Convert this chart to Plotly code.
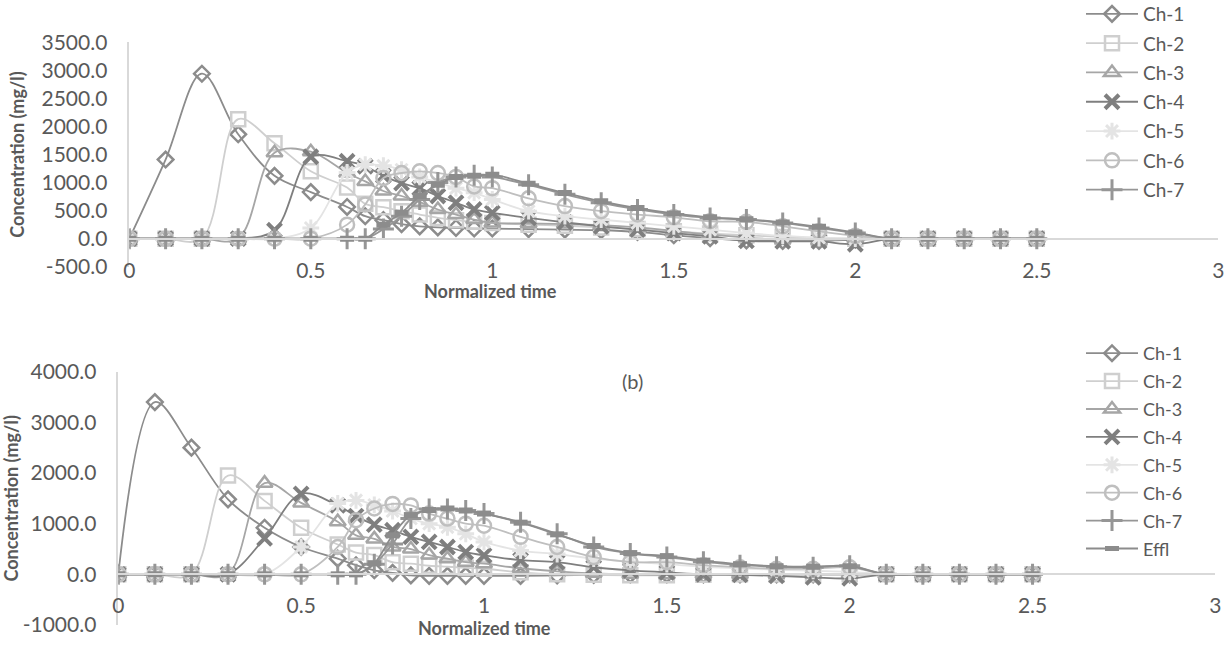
import plotly.graph_objects as go

# ---------------- data ----------------
x_time = [0, 0.1, 0.2, 0.3, 0.4, 0.5, 0.6, 0.65, 0.7, 0.75, 0.8, 0.85, 0.9, 0.95, 1.0,
          1.1, 1.2, 1.3, 1.4, 1.5, 1.6, 1.7, 1.8, 1.9, 2.0, 2.1, 2.2, 2.3, 2.4, 2.5]

series_names = ["Ch-1", "Ch-2", "Ch-3", "Ch-4", "Ch-5", "Ch-6", "Ch-7", "Effl"]

# panel (a)
a_ch1 = [0, 1410, 2940, 1860, 1120, 830, 565, 400, 330, 260, 220, 200, 190, 180, 180,
         170, 160, 150, 120, 60, 10, -30, -40, -40, -20, 0, 0, 0, 0, 0]
a_ch2 = [0, 0, 0, 2130, 1700, 1200, 910, 620, 560, 490, 430, 370, 330, 300, 280,
         250, 230, 200, 170, 130, 90, 60, 30, 10, 0, 0, 0, 0, 0, 0]
a_ch3 = [0, 0, 0, 0, 1530, 1550, 1170, 1020, 850, 760, 650, 520, 430, 340, 280,
         270, 260, 240, 200, 140, 70, 20, -20, -40, 0, 0, 0, 0, 0, 0]
a_ch4 = [0, 0, 0, 0, 150, 1460, 1380, 1290, 1120, 990, 900, 760, 640, 520, 460,
         370, 290, 220, 160, 100, 40, -40, -50, -50, -100, 0, 0, 0, 0, 0]
a_ch5 = [0, 0, 0, 0, 0, 190, 1180, 1320, 1300, 1230, 1100, 1000, 900, 820, 700,
         490, 400, 340, 280, 220, 160, 100, 50, 20, 0, 0, 0, 0, 0, 0]
a_ch6 = [0, 0, 0, 0, 0, 0, 250, 610, 1080, 1170, 1200, 1170, 1100, 930, 900,
         720, 580, 490, 430, 380, 310, 300, 220, 130, 50, 0, 0, 0, 0, 0]
a_ch7 = [0, 0, 0, 0, 0, 0, 0, 0, 170, 400, 700, 1000, 1100, 1130, 1100,
         960, 790, 640, 520, 430, 370, 340, 280, 190, 100, 0, 0, 0, 0, 0]
a_effl = [0, 0, 0, 0, 0, 0, 0, 0, 250, 460, 760, 960, 1100, 1120, 1140,
          980, 815, 665, 545, 450, 380, 345, 290, 210, 110, 0, 0, 0, 0, 0]

# panel (b)
b_ch1 = [0, 3400, 2500, 1480, 920, 540, 310, 180, 80, 30, -20, -30, -30, -30, -30,
         -30, -20, -10, 0, 0, 0, 0, 0, 0, 0, 0, 0, 0, 0, 0]
b_ch2 = [0, 0, 0, 1950, 1450, 920, 590, 430, 380, 240, 210, 170, 150, 130, 110,
         40, 0, -10, -20, -20, -10, 0, 0, 0, 0, 0, 0, 0, 0, 0]
b_ch3 = [0, 0, 0, 0, 1800, 1410, 1040, 770, 700, 540, 500, 380, 310, 240, 210,
         120, 60, 20, 0, -10, 0, 0, 0, 0, 0, 0, 0, 0, 0, 0]
b_ch4 = [0, 0, 0, 0, 710, 1590, 1360, 1150, 980, 870, 740, 640, 540, 440, 375,
         280, 240, 140, 80, 40, 0, -10, -30, -60, -80, 0, 0, 0, 0, 0]
b_ch5 = [0, 0, 0, 0, 0, 540, 1400, 1460, 1370, 1250, 1100, 1000, 930, 800, 640,
         470, 400, 310, 250, 200, 150, 120, 90, 70, 50, 0, 0, 0, 0, 0]
b_ch6 = [0, 0, 0, 0, 0, 0, 540, 1070, 1300, 1390, 1360, 1200, 1100, 1000, 960,
         740, 540, 340, 240, 240, 180, 140, 110, 110, 140, 0, 0, 0, 0, 0]
b_ch7 = [0, 0, 0, 0, 0, 0, 0, 0, 200, 600, 1100, 1290, 1290, 1260, 1200,
         1030, 800, 540, 410, 340, 250, 180, 150, 140, 170, 0, 0, 0, 0, 0]
b_effl = [0, 0, 0, 0, 0, 0, 0, 0, 220, 770, 1170, 1270, 1300, 1260, 1200,
          1020, 790, 560, 420, 360, 270, 200, 160, 150, 160, 0, 0, 0, 0, 0]

y_ticks_a = [-500, 0, 500, 1000, 1500, 2000, 2500, 3000, 3500]
y_ticks_b = [-1000, 0, 1000, 2000, 3000, 4000]
x_ticks = [0, 0.5, 1, 1.5, 2, 2.5, 3]
x_title = "Normalized time"
y_title = "Concentration (mg/l)"
panel_label = "(b)"

# ---------------- styles ----------------
styles = {
    "Ch-1": dict(symbol="diamond-open", size=12, mcolor="#595959", lcolor="#8C8C8C", mw=2.5),
    "Ch-2": dict(symbol="square-open", size=14, mcolor="#A5A5A5", lcolor="#CFCFCF", mw=2.5),
    "Ch-3": dict(symbol="triangle-up-open", size=14, mcolor="#7F7F7F", lcolor="#A6A6A6", mw=2.5),
    "Ch-4": dict(symbol="x-thin-open", size=14, mcolor="#1F1F1F", lcolor="#7F7F7F", mw=4),
    "Ch-5": dict(symbol="asterisk-open", size=14, mcolor="#D9D9D9", lcolor="#E4E4E4", mw=3),
    "Ch-6": dict(symbol="circle-open", size=14, mcolor="#A5A5A5", lcolor="#BFBFBF", mw=2.5),
    "Ch-7": dict(symbol="cross-thin-open", size=15, mcolor="#6E6E6E", lcolor="#969696", mw=3),
    "Effl": dict(symbol="line-ew-open", size=10, mcolor="#595959", lcolor="#8C8C8C", mw=6),
}

TXT = "#595959"
FONT = "Lato"
AX_LINE = "#D9D9D9"

fig = go.Figure()

panel_a = [a_ch1, a_ch2, a_ch3, a_ch4, a_ch5, a_ch6, a_ch7, a_effl]
panel_b = [b_ch1, b_ch2, b_ch3, b_ch4, b_ch5, b_ch6, b_ch7, b_effl]

for name, ys in zip(series_names, panel_a):
    s = styles[name]
    fig.add_trace(go.Scatter(
        x=x_time, y=ys, name=name, mode="lines+markers",
        line=dict(color=s["lcolor"], width=1.8, shape="spline", smoothing=1.0),
        marker=dict(symbol=s["symbol"], size=s["size"],
                    line=dict(color=s["mcolor"], width=s["mw"])),
        xaxis="x", yaxis="y", legend="legend", legendgroup="a" + name,
        showlegend=(name != "Effl"),
    ))

for name, ys in zip(series_names, panel_b):
    s = styles[name]
    fig.add_trace(go.Scatter(
        x=x_time, y=ys, name=name, mode="lines+markers",
        line=dict(color=s["lcolor"], width=1.8, shape="spline", smoothing=1.0),
        marker=dict(symbol=s["symbol"], size=s["size"],
                    line=dict(color=s["mcolor"], width=s["mw"])),
        xaxis="x2", yaxis="y2", legend="legend2", legendgroup="b" + name,
    ))

W, H = 1231, 656


def fx(px):
    return px / W


def fy(py):
    return 1 - py / H


axis_font = dict(family=FONT, size=21, color=TXT)
title_font = dict(family=FONT, size=18, color=TXT, weight="bold")

common_x = dict(range=[0, 3], tickvals=x_ticks, ticktext=[f"{v:g}" for v in x_ticks],
                showgrid=False, zeroline=False,
                showline=True, linecolor=AX_LINE, linewidth=1.5,
                ticks="outside", ticklen=13, tickcolor="rgba(0,0,0,0)",
                tickfont=axis_font, automargin=False, fixedrange=True)
common_y = dict(showgrid=False, zeroline=False, showline=True, linecolor=AX_LINE,
                linewidth=1.5, ticks="outside", ticklen=16, tickcolor="rgba(0,0,0,0)",
                tickfont=axis_font, automargin=False)

fig.update_layout(
    width=W, height=H,
    margin=dict(l=0, r=0, t=0, b=0, autoexpand=False),
    paper_bgcolor="white", plot_bgcolor="white",
    font=dict(family=FONT, color=TXT),
    xaxis=dict(domain=[fx(129.3), fx(1218.3)], anchor="free", position=fy(239),
               **common_x),
    yaxis=dict(domain=[fy(266.7), fy(42.3)], range=[-500, 3500], tickvals=y_ticks_a,
               ticktext=[f"{v:.1f}" for v in y_ticks_a],
               anchor="x", title=dict(text=y_title, font=title_font, standoff=12),
               **common_y),
    xaxis2=dict(domain=[fx(118.3), fx(1215.4)], anchor="free", position=fy(574.3),
                **common_x),
    yaxis2=dict(domain=[fy(625), fy(371.7)], range=[-1000, 4000], tickvals=y_ticks_b,
                ticktext=[f"{v:.1f}" for v in y_ticks_b],
                anchor="x2", title=dict(text=y_title, font=title_font, standoff=12),
                **common_y),
    legend=dict(x=fx(1081), y=fy(-5), xanchor="left", yanchor="top",
                font=dict(family=FONT, size=19, color=TXT), itemwidth=52,
                bgcolor="rgba(0,0,0,0)", traceorder="grouped", tracegroupgap=1.6),
    legend2=dict(x=fx(1081), y=fy(335), xanchor="left", yanchor="top",
                 font=dict(family=FONT, size=18, color=TXT), itemwidth=52,
                 bgcolor="rgba(0,0,0,0)", traceorder="grouped", tracegroupgap=1.5),
    annotations=[
        dict(text=panel_label, x=fx(632), y=fy(381), xref="paper", yref="paper",
             showarrow=False, font=dict(family=FONT, size=20, color=TXT)),
        dict(text=x_title, x=fx(490), y=fy(291), xref="paper", yref="paper",
             showarrow=False, font=title_font),
        dict(text=x_title, x=fx(484), y=fy(641), xref="paper", yref="paper",
             showarrow=False, font=title_font),
    ],
)

fig.write_html("out.html", config={"displayModeBar": False},
               post_script="document.body.style.margin='0px';")
